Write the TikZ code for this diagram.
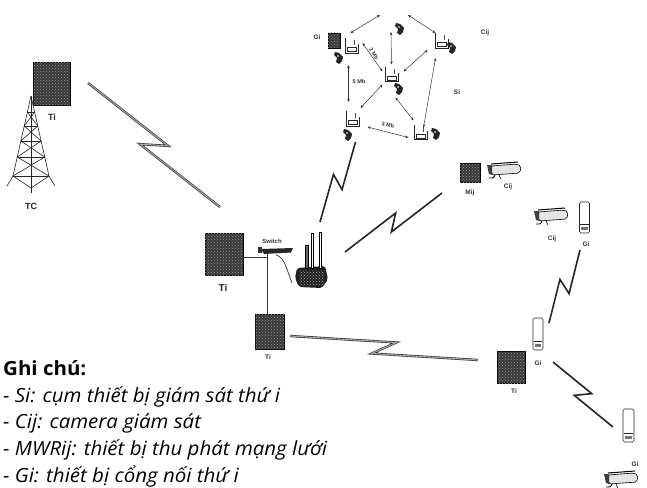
\documentclass[tikz,border=0pt]{standalone}
\usepackage{fontspec}
\setmainfont{Open Sans}[FakeStretch=1.05]
\newfontfamily\lblfont{Liberation Sans}
\usetikzlibrary{calc,arrows.meta,patterns}

\tikzset{
  tibox/.style={draw=black, line width=0.8pt, fill=black!78, inner sep=0pt,
    postaction={pattern=crosshatch dots, pattern color=gray!80}},
  lbl/.style={font=\lblfont\bfseries\fontsize{9}{10}\selectfont, inner sep=0pt, text=black!85},
  slbl/.style={font=\lblfont\bfseries\fontsize{6.5}{7}\selectfont, inner sep=0pt, text=black!80},
  mlbl/.style={font=\lblfont\bfseries\fontsize{5.5}{6}\selectfont, inner sep=0pt, text=black!80},
  link/.style={draw=black!80, line width=0.5pt,
    {Stealth[length=3.2pt,width=2.6pt]}-{Stealth[length=3.2pt,width=2.6pt]}},
  bolt/.style={draw=black!85, line width=1.6pt, line join=miter, miter limit=6,
    to path={-- ($(\tikztostart)!0.56!(\tikztotarget)!#1!90:(\tikztotarget)$)
             -- ($(\tikztostart)!0.44!(\tikztotarget)!#1!-90:(\tikztotarget)$)
             -- (\tikztotarget)}},
  bolt/.default=7pt,
  boltg/.style={bolt=#1, draw=black!85, line width=0.6pt, double=black!35, double distance=1.1pt},
  boltg/.default=7pt,
  gibox/.style={draw=black!85, fill=white, line width=0.6pt, rounded corners=1.5pt,
    inner sep=0pt, minimum width=10pt, minimum height=31pt},
  legend/.style={anchor=base west, inner sep=0pt, font=\itshape\fontsize{19.5}{22}\selectfont},
  cup/.pic={
    \draw[line width=0.6pt, black!85] (-6.5,-8) -- (-6.5,7) -- (6.5,7) -- (6.5,-2);
    \draw[line width=0.5pt, black!85] (-4.5,1.5) rectangle (4.5,5.5);
    \draw[line width=0.5pt, black!70] (2.5,-6) -- (2.5,-1);
  },
  minicam/.pic={
    \fill[black!85] (-4,-6) -- (0,-5) -- (4,-1) -- (3,3) -- (0,6) -- (-3,4) -- (-2,0) -- (-5,-3) -- cycle;
    \fill[white] (-1,-2) circle (0.9);
  },
  bigcam/.pic={
    \draw[line width=0.6pt, fill=black!10, rounded corners=2pt]
      (-13,-4) -- (13,-6) -- (17,-4) -- (16,3) -- (-12,5) -- cycle;
    \fill[black!75] (-17,-5) -- (-12,-5) -- (-12,5) -- (-15,4) -- cycle;
    \draw[line width=1pt] (-13,-6) -- (14,-8);
    \draw[line width=0.9pt] (-9,5) .. controls (-10,8) .. (-15,8);
    \draw[line width=0.6pt] (-5,5) -- (-3,9);
  }
}

\begin{document}
\begin{tikzpicture}[x=1pt,y=-1pt]
\clip (0,0) rectangle (647,487);
\fill[white] (0,0) rectangle (647,487);

% ---------- control centre: terminal and tower ----------
\node[tibox, minimum width=37pt, minimum height=43pt] (tiTL) at (51.5,83.5) {};
\node[lbl] (tiTLl) at (52,117) {Ti};
\begin{scope}[line width=0.6pt, draw=black!85]
  \draw (31,96) -- (13,176) -- (7,186);
  \draw (31,96) -- (49,176) -- (55,186);
  \draw (31,96) -- (31,193);
  \foreach \ya/\yb in {112/126,126/141,141/157,157/176}{
    \draw ({31-18*(\ya-96)/80},\ya) -- ({31+18*(\yb-96)/80},\yb);
    \draw ({31+18*(\ya-96)/80},\ya) -- ({31-18*(\yb-96)/80},\yb);
  }
  \foreach \y in {112,126,141,157,176}
    \draw ({31-18*(\y-96)/80},\y) -- ({31+18*(\y-96)/80},\y);
  \draw (13,176) -- (31,188) -- (49,176);
\end{scope}
\node[lbl] (tc) at (31,206) {TC};

% ---------- local station ----------
\node[tibox, minimum width=38pt, minimum height=42pt] (tiC) at (224,254) {};
\node[lbl, font=\lblfont\bfseries\fontsize{10}{11}\selectfont] (tiCl) at (223,288) {Ti};

\node[slbl, font=\lblfont\bfseries\fontsize{6}{7}\selectfont] (swl) at (272,241) {Switch};
\node[inner sep=0pt, minimum width=34pt, minimum height=6pt] (sw) at (276,251) {};
\fill[black!85] (261,249) -- (293,248) -- (291,252.5) -- (264,254) -- cycle;
\fill[black!80] (258,247) rectangle (262,253);

\node[inner sep=0pt, minimum width=32pt, minimum height=22pt] (rt) at (311,277) {};
\fill[black!88, rounded corners=2pt] (297,268) -- (325,266) -- (328,279) -- (322,288) -- (299,287) -- (295,278) -- cycle;
\fill[pattern=crosshatch dots, pattern color=gray!60] (299,270) rectangle (324,285);
\draw[line width=0.6pt, fill=black!60] (305.5,245) rectangle (308,268);
\draw[line width=0.5pt, fill=white] (311,233) rectangle (313.5,268);
\draw[line width=0.5pt, fill=white] (319,232) rectangle (321.5,268);

\node[tibox, minimum width=29pt, minimum height=35pt] (tiL) at (269.5,331.5) {};
\node[slbl] (tiLl) at (268,357) {Ti};

% wired links
\coordinate (swd) at ($(sw)+(-9,2)$);
\draw[line width=0.6pt, black!80] ([yshift=-3pt]tiC.east) -| (swd);
\draw[line width=0.6pt, black!80] (swd) -- (swd |- tiL.north);
\draw[line width=0.7pt, black!80] ($(sw)+(0,4)$) .. controls ($(sw)+(9,6)$) and ($(rt)+(-24,-6)$) .. ($(rt)+(-19,6)$);

% ---------- sensor cluster Si ----------
\coordinate (top) at (394,10);
\node[tibox, line width=0.6pt, minimum width=12pt, minimum height=15pt] (gS) at (334,40.5) {};
\node[slbl] (gSl) at (317,37) {Gi};

\node[inner sep=0pt, minimum size=14pt] (cA) at (351.5,46) {};
\pic at (cA) {cup};
\pic at (339,58) {minicam};
\node[inner sep=0pt, minimum size=12pt] (cB) at (400,29) {};
\pic at (cB) {minicam};
\node[inner sep=0pt, minimum size=14pt] (cC) at (441.5,41) {};
\pic at (cC) {cup};
\pic at (452,48) {minicam};
\node[inner sep=0pt, minimum size=14pt] (cD) at (391.5,74.5) {};
\pic at (cD) {cup};
\pic at (399,89) {minicam};
\node[inner sep=0pt, minimum size=14pt] (cE) at (352.5,119) {};
\pic at (cE) {cup};
\pic at (348,135) {minicam};
\node[inner sep=0pt, minimum size=14pt] (cF) at (420.5,132.5) {};
\pic at (cF) {cup};
\pic at (436,134) {minicam};

\node[slbl] (cijS) at (485,33) {Cij};
\node[slbl] (siS) at (457,92) {Si};

\draw[link] ($(cA)+(-1,-13)$) -- ($(top)+(-14,5)$);
\draw[link] ($(top)+(14,5)$) -- ($(cC)+(-6,-8)$);
\draw[link] ($(cA)+(11,-3)$) -- ($(cD)+(-9,-3)$);
\node[mlbl, rotate=-56] (m2) at (374,54) {2 Mb};
\draw[link] ($(cA)+(-3,19)$) -- ($(cE)+(-4,-17)$);
\node[mlbl] (m5) at (359,82) {5 Mb};
\draw[link] ($(cB)+(-9,3)$) -- ($(cD)+(0,-10)$);
\draw[link] ($(cC)+(-14,9)$) -- ($(cD)+(12,-3)$);
\draw[link] ($(cC)+(-6,17)$) -- ($(cF)+(3,-5)$);
\draw[link] ($(cD)+(-9,10)$) -- ($(cE)+(8,-11)$);
\draw[link] ($(cD)+(4,23)$) -- ($(cF)+(-7,-12)$);
\draw[link] ($(cE)+(15,8)$) -- ($(cF)+(-12,5)$);
\node[mlbl, rotate=-13] (m3) at (388,125) {3 Mb};

% ---------- mesh nodes on the right ----------
\node[tibox, line width=0.6pt, minimum width=20pt, minimum height=19pt] (mij) at (470,172.5) {};
\node[slbl] (mijl) at (470,193) {Mij};
\pic at (504,170) {bigcam};
\node[slbl] (cij1) at (508,187) {Cij};
\pic at (551,216) {bigcam};
\node[slbl] (cij2) at (552,239) {Cij};

\node[gibox, minimum height=31pt] (giA) at (584.5,217.5) {};
\node[gibox, minimum height=32pt] (giB) at (538,334) {};
\node[gibox, minimum height=33pt, minimum width=11pt] (giC) at (628.5,425.5) {};
\foreach \g in {giA,giB,giC}{
  \draw[line width=0.5pt, black!85] ($(\g.south west)+(1,-9)$) -- ($(\g.south east)+(-1,-9)$);
  \fill[black!55] ($(\g.south west)+(2,-6)$) rectangle ($(\g.south east)+(-2,-3)$);
}
\node[slbl] (giAl) at (586,244) {Gi};
\node[slbl] (giBl) at (538,363) {Gi};
\node[slbl] (giCl) at (635,464) {Gi};

\node[tibox, minimum width=28pt, minimum height=32pt] (tiR) at (511,367) {};
\node[slbl] (tiRl) at (514,391) {Ti};
\pic at (621,479) {bigcam};

% ---------- radio links ----------
\coordinate (b1a) at ($(tiTL)+(36.5,-0.5)$);
\coordinate (b1b) at ($(tiC)+(-4,-47)$);
\draw[boltg=9pt] (b1a) to (b1b);
\coordinate (b2a) at ($(rt)+(9,-55)$);
\coordinate (b2b) at ($(cE)+(3,23)$);
\draw[bolt] (b2a) to (b2b);
\coordinate (b3a) at ($(rt)+(34,-25)$);
\coordinate (b3b) at ($(mij)+(-28,20.5)$);
\draw[bolt] (b3a) to (b3b);
\coordinate (b4a) at ($(tiL)+(20.5,4.5)$);
\coordinate (b4b) at ($(tiR)+(-33,-7)$);
\draw[boltg] (b4a) to (b4b);
\coordinate (b5a) at ($(giA)+(-4.5,32.5)$);
\coordinate (b5b) at ($(giB)+(11,-11)$);
\draw[bolt] (b5a) to (b5b);
\coordinate (b6a) at ($(giB)+(15,28)$);
\coordinate (b6b) at ($(giC)+(-15.5,1.5)$);
\draw[bolt] (b6a) to (b6b);

% ---------- legend ----------
\node[legend, font=\bfseries\fontsize{19.5}{22}\selectfont] (lg0) at (3,375) {Ghi chú:};
\node[legend] (lg1) at (3,402) {- Si: cụm thiết bị giám sát thứ i};
\node[legend] (lg2) at (3,428.5) {- Cij: camera giám sát};
\node[legend] (lg3) at (3,455.5) {- MWRij: thiết bị thu phát mạng lưới};
\node[legend] (lg4) at (3,482) {- Gi: thiết bị cổng nối thứ i};
\end{tikzpicture}
\end{document}
